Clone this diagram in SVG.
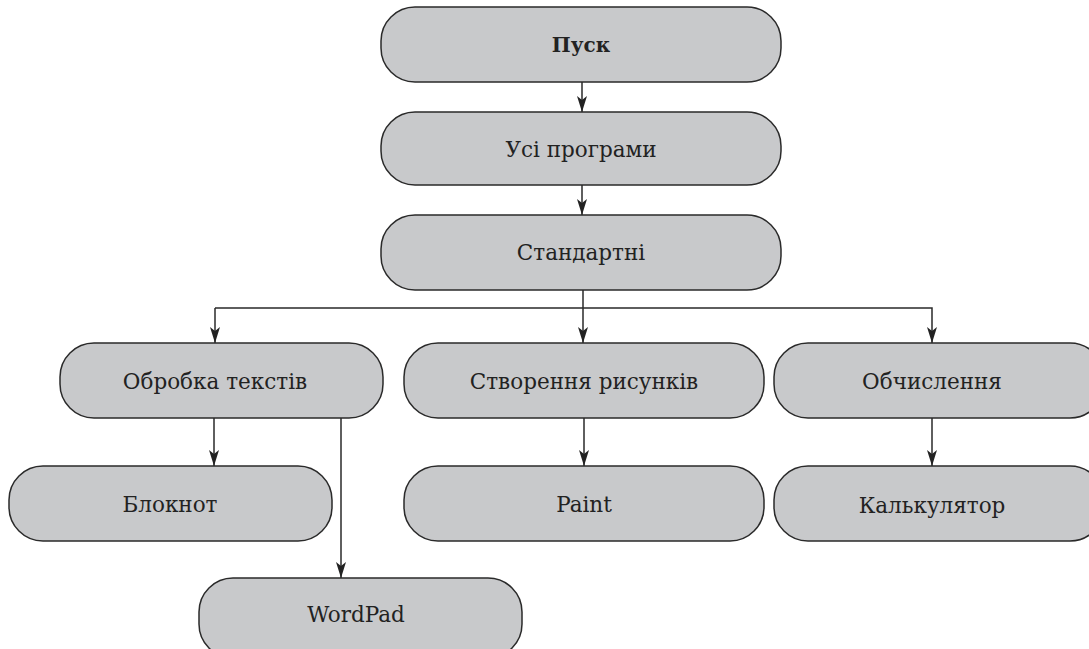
<svg xmlns="http://www.w3.org/2000/svg" width="1089" height="649" viewBox="0 0 1089 649">
<style>
.box{fill:#c8c9cb;stroke:#2a2a2a;stroke-width:1.5}
.t{font-family:"DejaVu Serif","Liberation Serif",serif;font-size:21.5px;fill:#222;text-anchor:middle;dominant-baseline:central}
.b{font-weight:bold;font-size:20px}
.c{fill:none;stroke:#2a2a2a;stroke-width:1.5}
</style>
<defs>
<marker id="ah" viewBox="0 0 16 10" refX="16" refY="5" markerWidth="16" markerHeight="10" markerUnits="userSpaceOnUse" orient="auto">
<path d="M0,0 L4,5 L0,10 L16,5 Z" fill="#222"/>
</marker>
</defs>
<rect width="1089" height="649" fill="#fff"/>
<g id="connectors">
<path class="c" d="M582,82 V112" marker-end="url(#ah)"/>
<path class="c" d="M582,185 V215" marker-end="url(#ah)"/>
<path class="c" d="M583,290 V343" marker-end="url(#ah)"/>
<path class="c" d="M215,308 H932 V343" marker-end="url(#ah)"/>
<path class="c" d="M215,308 V343" marker-end="url(#ah)"/>
<path class="c" d="M214,418 V466" marker-end="url(#ah)"/>
<path class="c" d="M341,418 V578" marker-end="url(#ah)"/>
<path class="c" d="M584,418 V466" marker-end="url(#ah)"/>
<path class="c" d="M932,418 V466" marker-end="url(#ah)"/>
</g>
<g id="pusk"><rect class="box" x="381" y="7" width="400" height="75" rx="34"/><text class="t b" x="581" y="45">Пуск</text></g>
<g id="usi"><rect class="box" x="381" y="112" width="400" height="73" rx="34"/><text class="t" x="581" y="149">Усі програми</text></g>
<g id="standartni"><rect class="box" x="381" y="215" width="400" height="75" rx="34"/><text class="t" x="581" y="252">Стандартні</text></g>
<g id="obrobka"><rect class="box" x="60" y="343" width="323" height="75" rx="34"/><text class="t" x="215" y="381">Обробка текстів</text></g>
<g id="stvorennia"><rect class="box" x="404" y="343" width="360" height="75" rx="34"/><text class="t" x="584" y="381">Створення рисунків</text></g>
<g id="obchyslennia"><rect class="box" x="774" y="343" width="330" height="75" rx="34"/><text class="t" x="932" y="381">Обчислення</text></g>
<g id="bloknot"><rect class="box" x="9" y="466" width="323" height="75" rx="34"/><text class="t" x="170" y="504">Блокнот</text></g>
<g id="paint"><rect class="box" x="404" y="466" width="360" height="75" rx="34"/><text class="t" x="584" y="504">Paint</text></g>
<g id="kalkuliator"><rect class="box" x="774" y="466" width="330" height="75" rx="34"/><text class="t" x="932" y="505">Калькулятор</text></g>
<g id="wordpad"><rect class="box" x="199" y="578" width="323" height="80" rx="34"/><text class="t" x="356" y="614">WordPad</text></g>
</svg>
